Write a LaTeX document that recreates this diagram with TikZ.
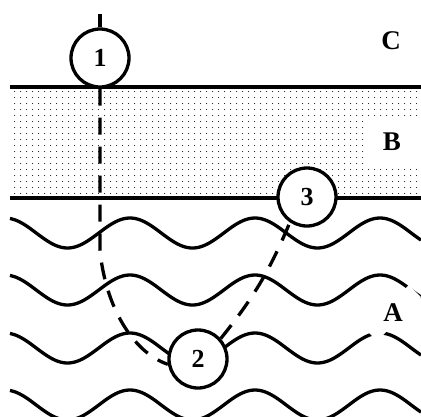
\documentclass[tikz,border=0pt]{standalone}
\usepackage{fontspec}
\setmainfont{Liberation Serif}
\usetikzlibrary{patterns.meta,arrows.meta}

\tikzdeclarepattern{
  name=sanddots,
  type=colored,
  bottom left={(0pt,0pt)},
  top right={(6.1pt,5.5pt)},
  tile size={(6.1pt,5.5pt)},
  code={\fill[black](3pt,2.75pt)circle(0.6pt);}
}

\begin{document}
\begin{tikzpicture}[x=1pt,y=-1pt,
  lay/.style={line width=3.5pt},
  wave/.style={line width=3.3pt},
  dashpath/.style={line width=3.3pt,dash pattern=on 17pt off 12pt},
  site/.style={circle,draw,fill=white,line width=3.3pt,minimum size=58pt,inner sep=0pt,font=\bfseries\fontsize{26}{26}\selectfont},
  zone/.style={font=\bfseries\fontsize{27}{27}\selectfont}]
\useasboundingbox(0,0)rectangle(421,416);
\clip(0,0)rectangle(421,416);
\fill[pattern=sanddots](10,87)rectangle(421,198);
\fill[white](365,119)rectangle(421,166);
\foreach \c in {233,290,348,405}
  \draw[wave]plot[domain=10:421,samples=90,smooth](\x,{\c-15*cos(2.88*(\x-5))});
\fill[white,rotate around={45:(393,313)}](362,304.5)rectangle(424,321.5);
\draw[lay](10,87)--(421,87);
\draw[lay](10,198)--(421,198);
\node[site](s1)at(100,58){1};
\node[site](s3)at(307,197){3};
\node[site](s2)at(198,359){2};
\coordinate(top)at(100,14);
\coordinate(bend)at(100,250);
\draw[lay](s1)--(top);
\draw[dashpath](s1.south)--(bend).. controls (105,305) and (132,352) ..(s2.190);
\draw[dashpath](s2.42)to[bend right=8](s3.236);
\node[zone](lc)at(391,41){C};
\node[zone](lb)at(392,142){B};
\node[zone](la)at(393,313){A};
\end{tikzpicture}
\end{document}
